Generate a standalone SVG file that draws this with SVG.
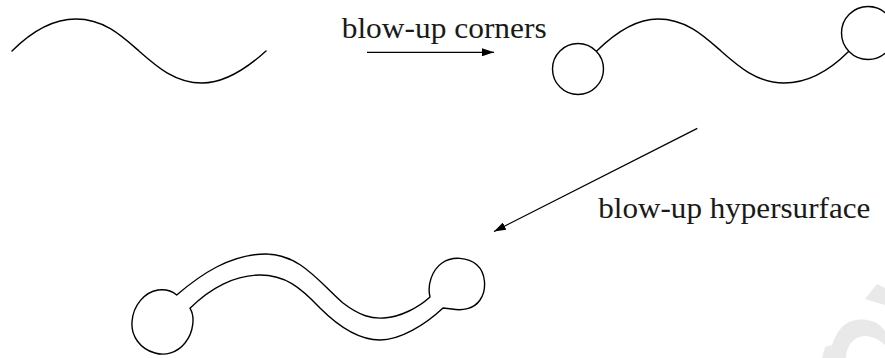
<svg xmlns="http://www.w3.org/2000/svg" width="885" height="358" viewBox="0 0 885 358">
  <style>
    .curve { fill: none; stroke: #000; stroke-width: 1.4; stroke-linejoin: round; stroke-linecap: round; }
    .conn { fill: none; stroke: #000; stroke-width: 1.3; }
    .wm { fill: #e9e9e9; stroke: none; }
  </style>
  <defs>
    <marker id="ah" viewBox="0 0 12 8" refX="12" refY="4" markerWidth="12" markerHeight="8" markerUnits="userSpaceOnUse" orient="auto">
      <path d="M0,0 L12,4 L0,8 Z" fill="#000"/>
    </marker>
  </defs>

  <g id="watermark">
    <path class="wm" d="M865,299 L877,284 L885,288 L885,305 Z"/>
    <path class="wm" d="M830,357 C831,345 835,335 842,327 C850,319 862,318 872,321 C878,323 882,327 885,331 L885,345 C880,340 874,337 866,336 C858,336 852,340 849,346 C847,350 846,354 846,358 L830,358 Z"/>
    <path class="wm" d="M825,347 L832,345 L830,358 L822,358 Z"/>
  </g>

  <g id="curve-original">
    <path class="curve" d="M12,51 C33,30 54,19 76,19 C104,19 122,36 139,51 C156,66 175,83 202,83 C224,83 245,70 266,51"/>
  </g>

  <g id="curve-corners">
    <circle class="curve" cx="578" cy="69" r="25.5"/>
    <circle class="curve" cx="868" cy="33" r="26.5"/>
    <path class="curve" d="M596.7,51 C615,33 636,19 658,19 C686,19 704,36 721,51 C738,66 757,83 784,83 C808,83 830,70 848.3,51.7"/>
  </g>

  <g id="curve-hypersurface">
    <path class="curve" d="M176.7,295 C200,275 230,254 266,254 C300,254 320,283 343,303 C360,316 372,319 384,318 C400,317 418,308 430,297 C427,285 432,270 442,263 C452,256 468,257 477,265 C486,273 487,290 480,300 C474,309 462,311 452,309 L443,308 C425,325 400,340 380,340 C360,340 340,328 320,308 C300,287 285,275 260,275 C235,275 210,288 190,308.3 C195,316 194,332 185,343 C177,353 165,356 155,353 C140,349 131,336 132,322 C133,305 145,292 158,290 C166,289 172,291 176.7,295 Z"/>
  </g>

  <g id="connectors">
    <line class="conn" x1="367" y1="52.3" x2="494" y2="52.3" marker-end="url(#ah)"/>
    <line class="conn" x1="697.3" y1="128.3" x2="494" y2="231.5" marker-end="url(#ah)"/>
  </g>

  <g id="labels">
    <text x="341.7" y="38.3" font-family="Liberation Serif, serif" font-size="29" fill="#1a1a1a" textLength="205" lengthAdjust="spacingAndGlyphs">blow-up corners</text>
    <text x="598.3" y="218.3" font-family="Liberation Serif, serif" font-size="29" fill="#1a1a1a" textLength="272" lengthAdjust="spacingAndGlyphs">blow-up hypersurface</text>
  </g>
</svg>
